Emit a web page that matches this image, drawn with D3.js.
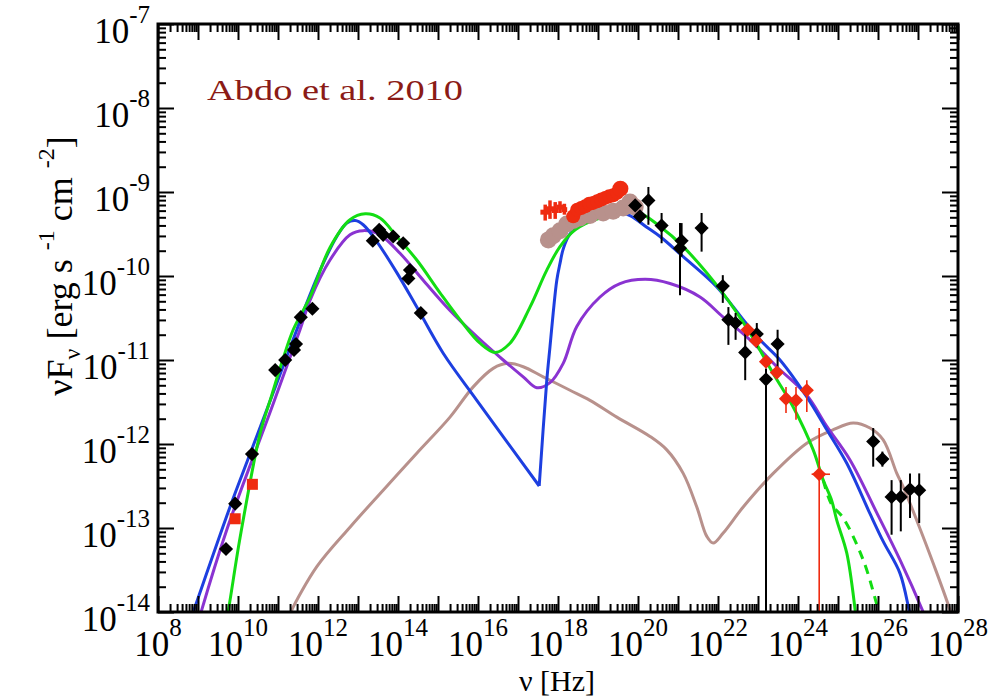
<!DOCTYPE html>
<html>
<head>
<meta charset="utf-8">
<script src="https://cdn.jsdelivr.net/npm/d3@7"></script>
<style>
  body { margin: 0; background: #fff; }
  text { font-family: "Liberation Serif", "Times New Roman", serif; }
</style>
</head>
<body>
<svg id="chart" width="1003" height="699"></svg>
<script>
// All values are [log10 ν (Hz), log10 νFν (erg s^-1 cm^-2)]

// Radio / mm / IR photometry
const radioIR = [
  [9.70, -13.25], [9.93, -12.71], [10.35, -12.12], [10.93, -11.12], [11.18, -11.00],
  [11.40, -10.88], [11.45, -10.81], [11.57, -10.49], [11.86, -10.39],
  [13.37, -9.58], [13.53, -9.45], [13.63, -9.51], [13.88, -9.53], [14.13, -9.61],
  [14.30, -9.93], [14.26, -10.03], [14.57, -10.44]
];
const radioRed = [[9.93, -12.89], [10.36, -12.48]];

// Hard X-ray points with error bars: [logν, logF, logν lo, logν hi, logF lo, logF hi]
const hardXray = [
  [17.68, -9.24, 17.56, 17.80, -9.34, -9.15],
  [17.80, -9.20, 17.70, 17.90, -9.32, -9.10],
  [17.93, -9.22, 17.85, 18.01, -9.32, -9.12],
  [18.05, -9.18, 17.97, 18.13, -9.25, -9.11],
  [18.16, -9.21, 18.09, 18.23, -9.27, -9.14]
];

// Soft X-ray spectra
const xrayRed = [
  [18.38, -9.29], [18.48, -9.21], [18.58, -9.19], [18.68, -9.17], [18.78, -9.14],
  [18.88, -9.13], [18.98, -9.11], [19.08, -9.09], [19.18, -9.07], [19.28, -9.05],
  [19.38, -9.04], [19.48, -9.01], [19.56, -8.96]
];
const xrayGray = [
  [17.76, -9.57], [17.88, -9.52], [18.05, -9.46], [18.22, -9.38], [18.38, -9.34],
  [18.55, -9.31], [18.80, -9.28], [19.13, -9.25], [19.38, -9.23], [19.63, -9.19],
  [19.80, -9.12], [19.93, -9.18]
];

// Gamma-ray points: [logν, logF, logF lo, logF hi]  (lo = null: bar reaches the axis)
const gammaBlack = [
  [19.93, -9.16, -9.20, -9.10], [20.05, -9.29, -9.33, -9.24], [20.26, -9.10, -9.39, -8.94],
  [20.59, -9.40, -9.61, -9.25], [21.09, -9.58, -9.77, -9.37], [21.05, -9.67, -10.23, -9.37],
  [21.59, -9.43, -9.71, -9.25], [22.12, -10.12, -10.32, -9.99], [22.26, -10.52, -10.82, -10.37],
  [22.44, -10.56, -10.76, -10.44], [22.68, -10.91, -11.24, -10.68], [22.97, -10.69, -10.85, -10.56],
  [23.20, -11.23, null, -11.10], [23.49, -10.81, -11.08, -10.64]
];
const gammaRed = [
  [22.74, -10.64, -10.68, -10.60], [22.95, -10.77, -10.81, -10.73], [23.20, -11.02, -11.06, -10.98],
  [23.47, -11.15, -11.19, -11.11], [23.70, -11.46, -11.63, -11.32], [23.95, -11.48, -11.71, -11.32],
  [24.22, -11.36, -11.62, -11.24], [24.53, -12.36, null, -11.81]
];
const gammaRedNuErr = [[24.53, -12.36, 24.34, 24.80]];

// TeV points
const tevBlack = [
  [25.88, -11.97, -12.27, -11.81], [26.11, -12.18, -12.27, -12.09], [26.34, -12.63, -13.08, -12.43],
  [26.57, -12.63, -13.04, -12.43], [26.80, -12.54, -12.88, -12.35], [27.03, -12.55, -12.94, -12.35]
];

// Model curves
const modelGreen = [
  [9.70, -14.10], [9.75, -14.00], [10.05, -13.12], [10.55, -11.88], [10.85, -11.41],
  [11.13, -10.98], [11.38, -10.64], [11.80, -10.25], [12.30, -9.66], [12.80, -9.33],
  [13.18, -9.26], [13.55, -9.31], [13.97, -9.53], [14.47, -9.81], [15.05, -10.20],
  [15.55, -10.52], [16.05, -10.80], [16.43, -10.91], [16.80, -10.80], [17.30, -10.37],
  [17.72, -9.93], [18.05, -9.65], [18.43, -9.45], [19.05, -9.31], [19.97, -9.24],
  [20.55, -9.41], [21.13, -9.65], [22.13, -10.21], [22.80, -10.68], [23.38, -11.16],
  [23.88, -11.56], [24.38, -12.07], [24.63, -12.43], [24.84, -12.67], [24.97, -12.91],
  [25.22, -13.30], [25.43, -13.98], [25.47, -14.15]
];
const modelGreenDashed = [
  [24.63, -12.43], [24.84, -12.72], [25.13, -12.88], [25.63, -13.38], [26.01, -13.98], [26.05, -14.05]
];
const modelBlueSync = [
  [8.82, -14.08], [8.88, -14.00], [9.80, -12.75], [10.30, -12.12], [10.80, -11.49],
  [11.47, -10.64], [11.72, -10.32], [12.13, -9.85], [12.47, -9.53], [12.72, -9.37],
  [12.93, -9.34], [13.13, -9.39], [13.47, -9.59], [13.97, -9.96], [14.47, -10.37],
  [15.13, -10.92], [15.97, -11.48], [17.53, -12.50]
];
const modelBlueIC = [
  [17.53, -12.50], [17.72, -11.24], [17.80, -10.84], [17.88, -10.44], [17.97, -10.05],
  [18.05, -9.85], [18.13, -9.68], [18.30, -9.50], [18.80, -9.32], [19.47, -9.24],
  [19.80, -9.28], [20.22, -9.42], [20.55, -9.53], [21.13, -9.77], [21.97, -10.13],
  [22.63, -10.52], [23.05, -10.76], [23.55, -11.00], [24.22, -11.44], [24.72, -11.83],
  [25.22, -12.23], [25.80, -12.83], [26.13, -13.16], [26.55, -13.54], [26.78, -13.98], [26.82, -14.05]
];
const modelPurple = [
  [9.05, -14.05], [9.09, -13.98], [9.72, -13.02], [10.88, -11.52], [11.55, -10.64],
  [11.80, -10.29], [12.30, -9.81], [12.80, -9.51], [13.13, -9.46], [13.55, -9.51],
  [14.05, -9.73], [14.63, -10.05], [15.30, -10.41], [15.97, -10.72], [16.63, -11.00],
  [17.13, -11.20], [17.47, -11.33], [17.80, -11.27], [18.13, -11.04], [18.47, -10.60],
  [19.05, -10.25], [19.55, -10.09], [20.18, -10.04], [20.80, -10.09], [21.55, -10.25],
  [22.13, -10.49], [22.80, -10.76], [23.47, -11.08], [24.22, -11.42], [24.72, -11.79],
  [25.30, -12.19], [25.97, -12.82], [26.55, -13.38], [27.13, -14.00], [27.18, -14.06]
];
const modelBrown = [
  [11.30, -14.03], [11.34, -13.98], [11.97, -13.46], [12.80, -12.99], [13.63, -12.55],
  [14.47, -12.11], [15.30, -11.68], [15.88, -11.32], [16.38, -11.10], [16.75, -11.04],
  [17.13, -11.08], [17.63, -11.20], [18.30, -11.36], [18.80, -11.48], [19.47, -11.68],
  [20.30, -11.91], [20.72, -12.07], [21.13, -12.35], [21.47, -12.75], [21.72, -13.10],
  [21.88, -13.18], [22.13, -13.06], [22.63, -12.75], [23.38, -12.35], [24.22, -11.99],
  [24.88, -11.83], [25.38, -11.75], [25.80, -11.81], [26.13, -11.95], [26.47, -12.35],
  [26.63, -12.51], [26.97, -12.91], [27.38, -13.42], [27.80, -13.98], [27.83, -14.05]
];

// Axes
const xDecades = d3.range(8, 29);        // 10^8 .. 10^28
const xLabelDecades = d3.range(8, 29, 2);
const yDecades = d3.range(-14, -6);       // 10^-14 .. 10^-7

const svg = d3.select("#chart");
const pLeft = 158, pRight = 958, pTop = 24, pBottom = 612;

const x = d3.scaleLog().domain([1e8, 1e28]).range([pLeft, pRight]);
const y = d3.scaleLog().domain([1e-14, 1e-7]).range([pBottom, pTop]);

const P = v => Math.pow(10, v);
const px = d => x(P(d[0]));
const py = d => y(P(d[1]));

const COLORS = {
  green: "#13dd13", blue: "#1d3fe0", purple: "#8a33d1", brown: "#b8918c",
  red: "#ef2b10", black: "#000", label: "#8b1b16"
};

svg.append("defs").append("clipPath").attr("id", "plotclip")
  .append("rect").attr("x", pLeft).attr("y", pTop)
  .attr("width", pRight - pLeft).attr("height", pBottom - pTop);

const plot = svg.append("g").attr("clip-path", "url(#plotclip)");

// model curves
const line = d3.line().x(px).y(py).curve(d3.curveCatmullRom.alpha(0.5));
function curve(data, color, dash) {
  plot.append("path").datum(data)
    .attr("d", line).attr("fill", "none")
    .attr("stroke", color).attr("stroke-width", 3)
    .attr("stroke-linejoin", "round")
    .attr("stroke-dasharray", dash || null);
}
curve(modelBrown, COLORS.brown);
curve(modelPurple, COLORS.purple);
curve(modelBlueSync, COLORS.blue);
curve(modelBlueIC, COLORS.blue);
curve(modelGreen, COLORS.green);
curve(modelGreenDashed, COLORS.green, "9,7");

// error bars
function yErr(data, color, w) {
  plot.append("g").selectAll("line").data(data).join("line")
    .attr("x1", px).attr("x2", px)
    .attr("y1", d => d[2] === null ? pBottom : y(P(d[2])))
    .attr("y2", d => y(P(d[3])))
    .attr("stroke", color).attr("stroke-width", w);
}
yErr(gammaBlack, COLORS.black, 2);
yErr(tevBlack, COLORS.black, 2);
yErr(gammaRed, COLORS.red, 1.6);
plot.append("g").selectAll("line").data(gammaRedNuErr).join("line")
  .attr("x1", d => x(P(d[2]))).attr("x2", d => x(P(d[3])))
  .attr("y1", py).attr("y2", py)
  .attr("stroke", COLORS.red).attr("stroke-width", 1.6);

// hard X-ray crosses
const hx = plot.append("g");
hx.selectAll("line.v").data(hardXray).join("line").attr("class", "v")
  .attr("x1", px).attr("x2", px)
  .attr("y1", d => y(P(d[4]))).attr("y2", d => y(P(d[5])))
  .attr("stroke", COLORS.red).attr("stroke-width", 3.5);
hx.selectAll("line.h").data(hardXray).join("line").attr("class", "h")
  .attr("x1", d => x(P(d[2]))).attr("x2", d => x(P(d[3])))
  .attr("y1", py).attr("y2", py)
  .attr("stroke", COLORS.red).attr("stroke-width", 5);

// soft X-ray spectra
plot.append("g").selectAll("circle").data(xrayGray).join("circle")
  .attr("cx", px).attr("cy", py).attr("r", 8.5).attr("fill", COLORS.brown);
plot.append("g").selectAll("circle").data(xrayRed).join("circle")
  .attr("cx", px).attr("cy", py).attr("r", (d, i) => i === xrayRed.length - 1 ? 8 : 7)
  .attr("fill", COLORS.red);

// markers
const diamond = d3.symbol().type(d3.symbolSquare).size(100);
function diamonds(data, color) {
  plot.append("g").selectAll("path").data(data).join("path")
    .attr("d", diamond)
    .attr("transform", d => `translate(${px(d)},${py(d)}) rotate(45)`)
    .attr("fill", color);
}
diamonds(radioIR, COLORS.black);
diamonds(gammaBlack, COLORS.black);
diamonds(tevBlack, COLORS.black);
diamonds(gammaRed, COLORS.red);
plot.append("g").selectAll("path").data(radioRed).join("path")
  .attr("d", d3.symbol().type(d3.symbolSquare).size(121))
  .attr("transform", d => `translate(${px(d)},${py(d)})`)
  .attr("fill", COLORS.red);

// ticks on all four sides, pointing inward
const xMajor = xDecades.map(P);
const xMinor = xDecades.slice(0, -1).flatMap(k => d3.range(2, 10).map(m => m * P(k)));
const yMajor = yDecades.map(P);
const yMinor = yDecades.slice(0, -1).flatMap(k => d3.range(2, 10).map(m => m * P(k)));

function tickAxis(gen, vals, size, tr) {
  const g = svg.append("g").attr("transform", tr)
    .call(gen.tickValues(vals).tickSize(size).tickSizeOuter(0).tickFormat(""));
  g.select(".domain").remove();
  g.selectAll(".tick line").attr("stroke", "#000").attr("stroke-width", 2);
}
tickAxis(d3.axisBottom(x), xMajor, -16, `translate(0,${pBottom})`);
tickAxis(d3.axisBottom(x), xMinor, -8, `translate(0,${pBottom})`);
tickAxis(d3.axisTop(x), xMajor, -16, `translate(0,${pTop})`);
tickAxis(d3.axisTop(x), xMinor, -8, `translate(0,${pTop})`);
tickAxis(d3.axisLeft(y), yMajor, -16, `translate(${pLeft},0)`);
tickAxis(d3.axisLeft(y), yMinor, -8, `translate(${pLeft},0)`);
tickAxis(d3.axisRight(y), yMajor, -16, `translate(${pRight},0)`);
tickAxis(d3.axisRight(y), yMinor, -8, `translate(${pRight},0)`);

// frame
svg.append("rect").attr("x", pLeft).attr("y", pTop)
  .attr("width", pRight - pLeft).attr("height", pBottom - pTop)
  .attr("fill", "none").attr("stroke", "#000").attr("stroke-width", 3);

// tick labels
const xl = svg.append("g").selectAll("text").data(xLabelDecades).join("text")
  .attr("x", k => x(P(k))).attr("y", 656)
  .attr("text-anchor", "middle").attr("font-size", 35);
xl.append("tspan").text("10");
xl.append("tspan").attr("dy", -20).attr("font-size", 25).text(k => k);

const yl = svg.append("g").selectAll("text").data(yDecades).join("text")
  .attr("x", 150).attr("y", k => y(P(k)) + 19)
  .attr("text-anchor", "end").attr("font-size", 35);
yl.append("tspan").text("10");
yl.append("tspan").attr("dy", -20).attr("font-size", 25).text(k => k);

// axis titles
svg.append("text").attr("x", 557).attr("y", 691)
  .attr("text-anchor", "middle").attr("font-size", 30).text("ν [Hz]");

const yt = svg.append("text").attr("transform", "translate(72,266) rotate(-90)")
  .attr("text-anchor", "middle").attr("font-size", 36);
yt.append("tspan").text("νF");
yt.append("tspan").attr("dy", 8).attr("font-size", 24).text("ν");
yt.append("tspan").attr("dy", -8).text(" [erg s ");
yt.append("tspan").attr("dy", -18).attr("font-size", 24).text("-1");
yt.append("tspan").attr("dy", 18).text(" cm ");
yt.append("tspan").attr("dy", -18).attr("font-size", 24).text("-2");
yt.append("tspan").attr("dy", 18).text("]");

// reference annotation
svg.append("text").attr("x", 207).attr("y", 100)
  .attr("font-family", "DejaVu Serif").attr("font-size", 30)
  .attr("textLength", 256).attr("lengthAdjust", "spacingAndGlyphs")
  .attr("fill", COLORS.label).text("Abdo et al. 2010");
</script>
</body>
</html>
